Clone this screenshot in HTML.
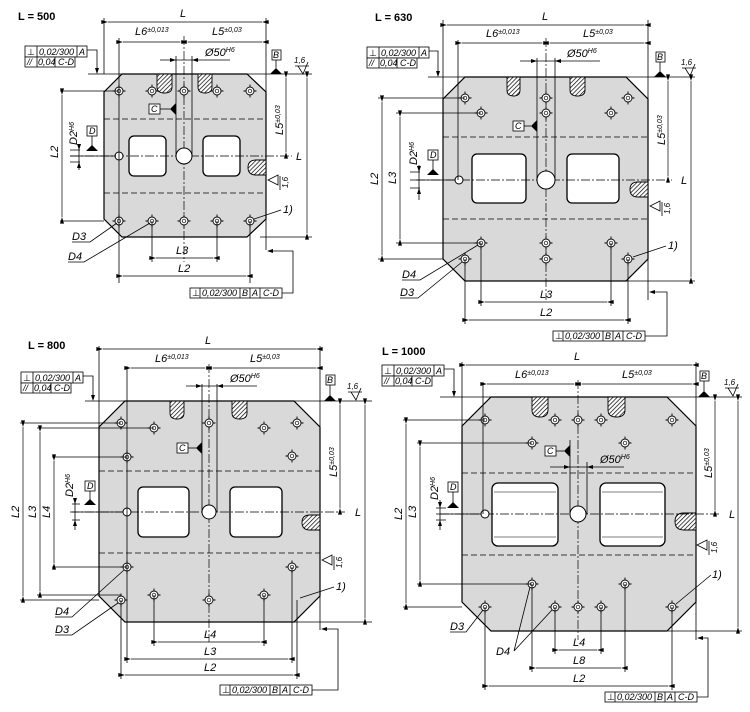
<!DOCTYPE html>
<html><head><meta charset="utf-8"><style>
html,body{margin:0;padding:0;background:#fff}
svg{display:block}
.l{stroke:#000;stroke-width:.8;fill:none}
.t{stroke:#000;stroke-width:1.3;fill:none}
.d{stroke:#000;stroke-width:.7;fill:none;marker-start:url(#a);marker-end:url(#a)}
.c{stroke:#000;stroke-width:.7;fill:none;stroke-dasharray:9 2 2 2}
.k{stroke:#000;stroke-width:.8;fill:none;stroke-dasharray:6 3}
.p{fill:#d9d9d9;stroke:#000;stroke-width:1.2}
.w{fill:#fff;stroke:#000;stroke-width:1.3}
text{font-family:"Liberation Sans",sans-serif;font-style:italic;font-size:11px;fill:#000}
.b{font-style:normal;font-weight:bold;font-size:11px}
.f{font-size:9px}
.s{font-size:7px}
.fr{fill:#fff;stroke:#000;stroke-width:.8}
.sl{fill:url(#hh);stroke:#000;stroke-width:.9}
</style></head><body>
<svg width="750" height="712" viewBox="0 0 750 712" xmlns="http://www.w3.org/2000/svg">
<defs>
<marker id="a" viewBox="0 0 10 6" refX="0" refY="3" markerWidth="8" markerHeight="4" orient="auto-start-reverse" markerUnits="userSpaceOnUse"><path d="M0 3L10 0V6Z" fill="#000"/></marker>
<pattern id="hh" width="3" height="3" patternUnits="userSpaceOnUse" patternTransform="rotate(45)"><rect width="3" height="3" fill="#fff"/><line x1="0" y1="0" x2="0" y2="3" stroke="#000" stroke-width="1.4"/></pattern>
<symbol id="h" overflow="visible"><circle r="4" fill="#fff" stroke="#000" stroke-width=".9"/><circle r="1.8" fill="none" stroke="#000" stroke-width=".7"/><path d="M-6.5 0H-4M4 0H6.5M0-6.5V-4M0 4V6.5" stroke="#000" stroke-width=".9"/></symbol>
<symbol id="tri" overflow="visible"><path d="M-6 0L0-6L6 0Z" fill="#000"/></symbol>
</defs>

<!-- ============ PLATE 1  L=500 ============ -->
<text class="b" x="18" y="20">L = 500</text>
<polygon class="p" points="122,74 247,74 266,92 266,219 247,237 122,237 104,219 104,92"/>
<rect class="w" x="129" y="136" width="37" height="40" rx="5"/>
<rect class="w" x="203" y="136" width="37" height="40" rx="5"/>
<line class="k" x1="104" y1="119" x2="266" y2="119"/><line class="k" x1="104" y1="193" x2="266" y2="193"/>
<path class="sl" d="M157 74V87Q157 93 164.5 93Q172 93 172 87V74Z"/>
<path class="sl" d="M198 74V87Q198 93 205 93Q212 93 212 87V74Z"/>
<path class="sl" d="M266 160H256Q248 160 248 167.5Q248 175 256 175H266Z"/>
<line class="c" x1="70" y1="156" x2="292" y2="156"/>
<line class="c" x1="184" y1="36" x2="184" y2="262"/>
<circle cx="184" cy="156" r="8" fill="#fff" stroke="#000"/>
<circle cx="119" cy="156" r="4" fill="#fff" stroke="#000"/>
<use href="#h" x="119" y="91"/><use href="#h" x="152" y="91"/><use href="#h" x="184" y="91"/><use href="#h" x="217" y="91"/><use href="#h" x="250" y="91"/>
<use href="#h" x="119" y="221"/><use href="#h" x="152" y="221"/><use href="#h" x="184" y="221"/><use href="#h" x="217" y="221"/><use href="#h" x="250" y="221"/>
<path class="l" d="M104 18V74M266 18V250M119 38V283M250 221V283M152 221V262M217 221V262M176 56V156M192 56V156M60 91H119M60 221H104M88 74H312M260 237H312M79 148V170M70 156H116M70 150H80M70 162H80"/>
<line class="d" x1="108" y1="22" x2="262" y2="22"/><text x="180" y="17">L</text>
<line class="d" x1="123" y1="42" x2="180" y2="42"/><line class="d" x1="188" y1="42" x2="262" y2="42"/>
<text x="135" y="35">L6<tspan class="s" dy="-3">±0,013</tspan></text><text x="212" y="35">L5<tspan class="s" dy="-3">±0,03</tspan></text>
<path class="l" d="M160 60H230"/><path d="M176 60l-6-2v4zM192 60l6-2v4z" fill="#000"/>
<text x="205" y="56">Ø50<tspan class="s" dy="-4">H6</tspan></text>
<line class="d" x1="62" y1="95" x2="62" y2="217"/><text transform="translate(58,158) rotate(-90)">L2</text>
<path d="M79 150l-2-6h4zM79 162l-2 6h4z" fill="#000"/>
<text transform="translate(77,145) rotate(-90)">D2<tspan class="s" dy="-3">H6</tspan></text>
<rect class="fr" x="87" y="126" width="10" height="10"/><text class="f" x="89" y="134">D</text>
<line class="l" x1="92" y1="136" x2="92" y2="150"/><use href="#tri" x="92" y="151"/>
<line class="d" x1="286" y1="78" x2="286" y2="152"/><text transform="translate(283,135) rotate(-90)">L5<tspan class="s" dy="-3">±0,03</tspan></text>
<line class="d" x1="307" y1="78" x2="307" y2="233"/><text x="296" y="160">L</text>
<rect class="fr" x="149" y="104" width="11" height="10"/><text class="f" x="151" y="112">C</text>
<line class="l" x1="160" y1="109" x2="170" y2="109"/><path d="M170 109L176 103V115Z" fill="#000"/>
<rect class="fr" x="272" y="50" width="9" height="10"/><text class="f" x="273" y="58">B</text>
<line class="l" x1="276" y1="60" x2="276" y2="68"/><use href="#tri" x="276" y="74"/>
<path class="l" d="M295 66h14M298 66l5 8 5-12"/><text class="s" x="294" y="63" style="font-size:8px">1,6</text>
<path class="l" d="M278 185l-10 -5 10-5zM280 176v14"/><text class="s" transform="translate(288,188) rotate(-90)" style="font-size:8px">1,6</text>
<rect class="fr" x="25" y="46" width="62" height="11"/><rect class="fr" x="25" y="57" width="50" height="10"/>
<path class="l" d="M37 46V67M77 46V57M55 57V67"/>
<text class="f" x="27" y="55" style="font-style:normal">⊥</text><text class="f" x="39" y="55">0,02/300</text><text class="f" x="79" y="55">A</text>
<text class="f" x="27" y="65">//</text><text class="f" x="38" y="65">0,04</text><text class="f" x="58" y="65">C-D</text>
<path class="l" d="M87 50H97V70"/><path d="M97 74l-2-6h4z" fill="#000"/>
<text x="283" y="213">1)</text><path class="l" d="M281 210L254 219"/>
<text x="72" y="240">D3</text><path class="l" d="M72 242H90L117 223"/>
<text x="68" y="260">D4</text><path class="l" d="M68 262H84L150 223"/>
<line class="d" x1="156" y1="258" x2="213" y2="258"/><text x="176" y="254">L3</text>
<line class="d" x1="123" y1="276" x2="246" y2="276"/><text x="178" y="272">L2</text>
<rect class="fr" x="190" y="288" width="92" height="10"/><path class="l" d="M200 288v10M240 288v10M250 288v10M260 288v10"/>
<text class="f" x="192" y="296" style="font-style:normal">⊥</text><text class="f" x="202" y="296">0,02/300</text><text class="f" x="242" y="296">B</text><text class="f" x="252" y="296">A</text><text class="f" x="263" y="296">C-D</text>
<path class="l" d="M282 293H293V251H272"/><path d="M267 251l6-2v4z" fill="#000"/>

<!-- ============ PLATE 2  L=630 ============ -->
<text class="b" x="375" y="21">L = 630</text>
<polygon class="p" points="465,77 626,77 648,99 648,259 626,281 465,281 443,259 443,99"/>
<rect class="w" x="472" y="154" width="54" height="49" rx="5"/>
<rect class="w" x="567" y="154" width="52" height="49" rx="5"/>
<line class="k" x1="443" y1="137" x2="648" y2="137"/><line class="k" x1="443" y1="219" x2="648" y2="219"/>
<path class="sl" d="M507 77V90Q507 96 513.5 96Q520 96 520 90V77Z"/>
<path class="sl" d="M570 77V90Q570 96 577.5 96Q585 96 585 90V77Z"/>
<path class="sl" d="M648 182H638Q630 182 630 189.5Q630 197 638 197H648Z"/>
<line class="c" x1="416" y1="180" x2="672" y2="180"/>
<line class="c" x1="546" y1="38" x2="546" y2="300"/>
<circle cx="546" cy="180" r="9" fill="#fff" stroke="#000"/>
<circle cx="459" cy="180" r="4" fill="#fff" stroke="#000"/>
<use href="#h" x="465" y="98"/><use href="#h" x="481" y="113"/><use href="#h" x="546" y="98"/><use href="#h" x="546" y="113"/><use href="#h" x="611" y="113"/><use href="#h" x="628" y="98"/>
<use href="#h" x="481" y="243"/><use href="#h" x="546" y="243"/><use href="#h" x="611" y="243"/><use href="#h" x="465" y="259"/><use href="#h" x="546" y="259"/><use href="#h" x="628" y="259"/>
<path class="l" d="M443 20V99M648 20V300M458 40V180M465 259V324M628 259V324M481 243V306M611 243V306M537 58V180M555 58V180M378 98H465M396 113H481M378 259H443M396 243H481M428 77H695M626 281H695M419 165V200M410 180H455M410 172H420M410 188H420"/>
<line class="d" x1="447" y1="25" x2="644" y2="25"/><text x="542" y="20">L</text>
<line class="d" x1="462" y1="43" x2="542" y2="43"/><line class="d" x1="550" y1="43" x2="644" y2="43"/>
<text x="486" y="37">L6<tspan class="s" dy="-3">±0,013</tspan></text><text x="583" y="37">L5<tspan class="s" dy="-3">±0,03</tspan></text>
<path class="l" d="M520 61H600"/><path d="M537 61l-6-2v4zM555 61l6-2v4z" fill="#000"/>
<text x="567" y="57">Ø50<tspan class="s" dy="-4">H6</tspan></text>
<line class="d" x1="382" y1="102" x2="382" y2="255"/><text transform="translate(378,185) rotate(-90)">L2</text>
<line class="d" x1="400" y1="117" x2="400" y2="239"/><text transform="translate(396,184) rotate(-90)">L3</text>
<path d="M419 172l-2-6h4zM419 188l-2 6h4z" fill="#000"/>
<text transform="translate(417,165) rotate(-90)">D2<tspan class="s" dy="-3">H6</tspan></text>
<rect class="fr" x="428" y="150" width="10" height="10"/><text class="f" x="430" y="158">D</text>
<line class="l" x1="433" y1="160" x2="433" y2="174"/><use href="#tri" x="433" y="175"/>
<line class="d" x1="668" y1="81" x2="668" y2="176"/><text transform="translate(665,145) rotate(-90)">L5<tspan class="s" dy="-3">±0,03</tspan></text>
<line class="d" x1="691" y1="81" x2="691" y2="277"/><text x="681" y="184">L</text>
<rect class="fr" x="513" y="121" width="11" height="10"/><text class="f" x="515" y="129">C</text>
<line class="l" x1="524" y1="126" x2="531" y2="126"/><path d="M531 126L537 120V132Z" fill="#000"/>
<rect class="fr" x="656" y="52" width="9" height="10"/><text class="f" x="657" y="60">B</text>
<line class="l" x1="660" y1="62" x2="660" y2="71"/><use href="#tri" x="660" y="77"/>
<path class="l" d="M682 68h14M685 68l5 8 5-12"/><text class="s" x="681" y="65" style="font-size:8px">1,6</text>
<path class="l" d="M660 211l-10-5 10-5zM662 202v14"/><text class="s" transform="translate(670,214) rotate(-90)" style="font-size:8px">1,6</text>
<rect class="fr" x="367" y="47" width="62" height="11"/><rect class="fr" x="367" y="58" width="50" height="10"/>
<path class="l" d="M379 47V68M419 47V58M397 58V68"/>
<text class="f" x="369" y="56" style="font-style:normal">⊥</text><text class="f" x="381" y="56">0,02/300</text><text class="f" x="421" y="56">A</text>
<text class="f" x="369" y="66">//</text><text class="f" x="380" y="66">0,04</text><text class="f" x="400" y="66">C-D</text>
<path class="l" d="M429 51H438V72"/><path d="M438 77l-2-6h4z" fill="#000"/>
<text x="668" y="249">1)</text><path class="l" d="M666 246L633 257"/>
<text x="402" y="278">D4</text><path class="l" d="M402 280H420L478 245"/>
<text x="400" y="296">D3</text><path class="l" d="M400 298H418L462 262"/>
<line class="d" x1="485" y1="302" x2="607" y2="302"/><text x="540" y="298">L3</text>
<line class="d" x1="469" y1="320" x2="624" y2="320"/><text x="540" y="316">L2</text>
<rect class="fr" x="553" y="331" width="92" height="10"/><path class="l" d="M563 331v10M603 331v10M613 331v10M623 331v10"/>
<text class="f" x="555" y="339" style="font-style:normal">⊥</text><text class="f" x="565" y="339">0,02/300</text><text class="f" x="605" y="339">B</text><text class="f" x="615" y="339">A</text><text class="f" x="626" y="339">C-D</text>
<path class="l" d="M645 336H667V292H654"/><path d="M649 292l6-2v4z" fill="#000"/>

<!-- ============ PLATE 3  L=800 ============ -->
<text class="b" x="28" y="349">L = 800</text>
<polygon class="p" points="125,401 294,401 320,427 320,596 294,622 125,622 99,596 99,427"/>
<rect class="w" x="138" y="487" width="51" height="50" rx="5"/>
<rect class="w" x="230" y="487" width="52" height="50" rx="5"/>
<line class="k" x1="99" y1="471" x2="320" y2="471"/><line class="k" x1="99" y1="553" x2="320" y2="553"/>
<path class="sl" d="M170 401V413Q170 419 177 419Q184 419 184 413V401Z"/>
<path class="sl" d="M232 401V413Q232 419 239.5 419Q247 419 247 413V401Z"/>
<path class="sl" d="M320 515H310Q302 515 302 522.5Q302 530 310 530H320Z"/>
<line class="c" x1="70" y1="512" x2="345" y2="512"/>
<line class="c" x1="209" y1="364" x2="209" y2="642"/>
<circle cx="209" cy="512" r="7" fill="#fff" stroke="#000"/>
<circle cx="127" cy="512" r="4" fill="#fff" stroke="#000"/>
<use href="#h" x="121" y="423"/><use href="#h" x="154" y="428"/><use href="#h" x="209" y="423"/><use href="#h" x="264" y="428"/><use href="#h" x="297" y="423"/><use href="#h" x="127" y="457"/><use href="#h" x="292" y="456"/>
<use href="#h" x="127" y="567"/><use href="#h" x="292" y="567"/><use href="#h" x="154" y="595"/><use href="#h" x="209" y="600"/><use href="#h" x="264" y="595"/><use href="#h" x="121" y="600"/>
<path class="l" d="M99 346V427M320 346V630M127 366V663M292 567V663M121 600V679M297 600V679M154 595V646M264 595V646M202 384V512M217 384V512M20 423H121M37 428H154M52 457H127M52 567H127M37 595H121M20 600H99M85 401H372M294 622H372M75 498V530M72 512H123M72 504H80M72 520H80"/>
<line class="d" x1="103" y1="349" x2="316" y2="349"/><text x="205" y="344">L</text>
<line class="d" x1="131" y1="368" x2="205" y2="368"/><line class="d" x1="213" y1="368" x2="316" y2="368"/>
<text x="155" y="362">L6<tspan class="s" dy="-3">±0,013</tspan></text><text x="250" y="362">L5<tspan class="s" dy="-3">±0,03</tspan></text>
<path class="l" d="M186 386H257"/><path d="M202 386l-6-2v4zM217 386l6-2v4z" fill="#000"/>
<text x="230" y="382">Ø50<tspan class="s" dy="-4">H6</tspan></text>
<line class="d" x1="23" y1="427" x2="23" y2="596"/><text transform="translate(19,518) rotate(-90)">L2</text>
<line class="d" x1="40" y1="432" x2="40" y2="591"/><text transform="translate(36,518) rotate(-90)">L3</text>
<line class="d" x1="54" y1="461" x2="54" y2="563"/><text transform="translate(50,518) rotate(-90)">L4</text>
<path d="M75 504l-2-6h4zM75 520l-2 6h4z" fill="#000"/>
<text transform="translate(73,497) rotate(-90)">D2<tspan class="s" dy="-3">H6</tspan></text>
<rect class="fr" x="85" y="481" width="10" height="10"/><text class="f" x="87" y="489">D</text>
<line class="l" x1="90" y1="491" x2="90" y2="504"/><use href="#tri" x="90" y="505"/>
<line class="d" x1="340" y1="405" x2="340" y2="508"/><text transform="translate(337,477) rotate(-90)">L5<tspan class="s" dy="-3">±0,03</tspan></text>
<line class="d" x1="365" y1="405" x2="365" y2="618"/><text x="355" y="516">L</text>
<rect class="fr" x="177" y="443" width="11" height="10"/><text class="f" x="179" y="451">C</text>
<line class="l" x1="188" y1="448" x2="196" y2="448"/><path d="M196 448L202 442V454Z" fill="#000"/>
<rect class="fr" x="326" y="375" width="9" height="10"/><text class="f" x="327" y="383">B</text>
<line class="l" x1="330" y1="385" x2="330" y2="395"/><use href="#tri" x="330" y="401"/>
<path class="l" d="M348 392h14M351 392l5 8 5-12"/><text class="s" x="347" y="389" style="font-size:8px">1,6</text>
<path class="l" d="M332 565l-10-5 10-5zM334 556v14"/><text class="s" transform="translate(342,568) rotate(-90)" style="font-size:8px">1,6</text>
<rect class="fr" x="21" y="372" width="62" height="11"/><rect class="fr" x="21" y="383" width="50" height="10"/>
<path class="l" d="M33 372V393M73 372V383M51 383V393"/>
<text class="f" x="23" y="381" style="font-style:normal">⊥</text><text class="f" x="35" y="381">0,02/300</text><text class="f" x="75" y="381">A</text>
<text class="f" x="23" y="391">//</text><text class="f" x="34" y="391">0,04</text><text class="f" x="54" y="391">C-D</text>
<path class="l" d="M83 376H93V396"/><path d="M93 401l-2-6h4z" fill="#000"/>
<text x="336" y="590">1)</text><path class="l" d="M334 587L300 598"/>
<text x="55" y="615">D4</text><path class="l" d="M55 617H72L124 570"/>
<text x="55" y="633">D3</text><path class="l" d="M55 635H72L118 603"/>
<line class="d" x1="158" y1="642" x2="260" y2="642"/><text x="204" y="638">L4</text>
<line class="d" x1="131" y1="659" x2="288" y2="659"/><text x="204" y="655">L3</text>
<line class="d" x1="125" y1="675" x2="293" y2="675"/><text x="204" y="671">L2</text>
<rect class="fr" x="220" y="685" width="92" height="10"/><path class="l" d="M230 685v10M270 685v10M280 685v10M290 685v10"/>
<text class="f" x="222" y="693" style="font-style:normal">⊥</text><text class="f" x="232" y="693">0,02/300</text><text class="f" x="272" y="693">B</text><text class="f" x="282" y="693">A</text><text class="f" x="293" y="693">C-D</text>
<path class="l" d="M312 690H338V629H326"/><path d="M321 629l6-2v4z" fill="#000"/>

<!-- ============ PLATE 4  L=1000 ============ -->
<text class="b" x="382" y="355">L = 1000</text>
<polygon class="p" points="491,397 667,397 696,426 696,602 667,631 491,631 462,602 462,426"/>
<rect class="w" x="492" y="483" width="66" height="63" rx="6"/>
<rect class="w" x="600" y="483" width="65" height="63" rx="6"/>
<path class="l" d="M494 492H556M494 537H556M602 492H663M602 537H663" style="stroke-width:.6"/>
<line class="k" x1="462" y1="473" x2="696" y2="473"/><line class="k" x1="462" y1="555" x2="696" y2="555"/>
<path class="sl" d="M532 397V410Q532 417 540 417Q548 417 548 410V397Z"/>
<path class="sl" d="M608 397V410Q608 417 616.5 417Q625 417 625 410V397Z"/>
<path class="sl" d="M696 513H684Q675 513 675 521.5Q675 530 684 530H696Z"/>
<line class="c" x1="440" y1="514" x2="720" y2="514"/>
<line class="c" x1="578" y1="380" x2="578" y2="640"/>
<circle cx="578" cy="514" r="8" fill="#fff" stroke="#000"/>
<circle cx="485" cy="514" r="4" fill="#fff" stroke="#000"/>
<use href="#h" x="485" y="420"/><use href="#h" x="555" y="420"/><use href="#h" x="578" y="420"/><use href="#h" x="601" y="420"/><use href="#h" x="672" y="420"/><use href="#h" x="532" y="443"/><use href="#h" x="625" y="443"/>
<use href="#h" x="532" y="584"/><use href="#h" x="625" y="584"/><use href="#h" x="485" y="607"/><use href="#h" x="555" y="607"/><use href="#h" x="578" y="607"/><use href="#h" x="601" y="607"/><use href="#h" x="672" y="607"/>
<path class="l" d="M462 362V426M696 362V640M483 382V514M485 607V690M672 607V690M532 584V672M625 584V672M555 607V654M601 607V654M570 440V514M587 462V514M403 420H485M417 443H532M417 584H532M403 607H462M440 397H742M667 631H742M440 500V530M436 514H481M436 508H446M436 520H446"/>
<line class="d" x1="466" y1="365" x2="692" y2="365"/><text x="574" y="360">L</text>
<line class="d" x1="487" y1="384" x2="574" y2="384"/><line class="d" x1="582" y1="384" x2="692" y2="384"/>
<text x="515" y="378">L6<tspan class="s" dy="-3">±0,013</tspan></text><text x="622" y="378">L5<tspan class="s" dy="-3">±0,03</tspan></text>
<path class="l" d="M550 467H624"/><path d="M570 467l-6-2v4zM587 467l6-2v4z" fill="#000"/>
<text x="600" y="463">Ø50<tspan class="s" dy="-4">H6</tspan></text>
<line class="d" x1="406" y1="424" x2="406" y2="603"/><text transform="translate(402,520) rotate(-90)">L2</text>
<line class="d" x1="420" y1="447" x2="420" y2="580"/><text transform="translate(416,518) rotate(-90)">L3</text>
<path d="M440 508l-2-6h4zM440 520l-2 6h4z" fill="#000"/>
<text transform="translate(438,500) rotate(-90)">D2<tspan class="s" dy="-3">H6</tspan></text>
<rect class="fr" x="448" y="482" width="10" height="10"/><text class="f" x="450" y="490">D</text>
<line class="l" x1="453" y1="492" x2="453" y2="507"/><use href="#tri" x="453" y="508"/>
<line class="d" x1="715" y1="401" x2="715" y2="510"/><text transform="translate(712,478) rotate(-90)">L5<tspan class="s" dy="-3">±0,03</tspan></text>
<line class="d" x1="738" y1="401" x2="738" y2="627"/><text x="729" y="518">L</text>
<rect class="fr" x="545" y="446" width="11" height="10"/><text class="f" x="547" y="454">C</text>
<line class="l" x1="556" y1="451" x2="564" y2="451"/><path d="M564 451L570 445V457Z" fill="#000"/>
<rect class="fr" x="700" y="371" width="9" height="10"/><text class="f" x="701" y="379">B</text>
<line class="l" x1="704" y1="381" x2="704" y2="391"/><use href="#tri" x="704" y="397"/>
<path class="l" d="M725 388h14M728 388l5 8 5-12"/><text class="s" x="724" y="385" style="font-size:8px">1,6</text>
<path class="l" d="M707 550l-10-5 10-5zM709 541v14"/><text class="s" transform="translate(717,553) rotate(-90)" style="font-size:8px">1,6</text>
<rect class="fr" x="382" y="365" width="62" height="11"/><rect class="fr" x="382" y="376" width="50" height="10"/>
<path class="l" d="M394 365V386M434 365V376M412 376V386"/>
<text class="f" x="384" y="374" style="font-style:normal">⊥</text><text class="f" x="396" y="374">0,02/300</text><text class="f" x="436" y="374">A</text>
<text class="f" x="384" y="384">//</text><text class="f" x="395" y="384">0,04</text><text class="f" x="415" y="384">C-D</text>
<path class="l" d="M444 369H454V392"/><path d="M454 397l-2-6h4z" fill="#000"/>
<text x="712" y="578">1)</text><path class="l" d="M711 575L676 604"/>
<text x="450" y="630">D3</text><path class="l" d="M450 632H466L483 610"/>
<text x="496" y="655">D4</text><path class="l" d="M514 651L530 587M514 651L552 610"/>
<line class="d" x1="559" y1="650" x2="597" y2="650"/><text x="573" y="646">L4</text>
<line class="d" x1="536" y1="668" x2="621" y2="668"/><text x="573" y="664">L8</text>
<line class="d" x1="489" y1="686" x2="668" y2="686"/><text x="573" y="682">L2</text>
<rect class="fr" x="605" y="692" width="92" height="10"/><path class="l" d="M615 692v10M655 692v10M665 692v10M675 692v10"/>
<text class="f" x="607" y="700" style="font-style:normal">⊥</text><text class="f" x="617" y="700">0,02/300</text><text class="f" x="657" y="700">B</text><text class="f" x="667" y="700">A</text><text class="f" x="678" y="700">C-D</text>
<path class="l" d="M697 697H708V638H702"/><path d="M697 638l6-2v4z" fill="#000"/>
</svg>
</body></html>
